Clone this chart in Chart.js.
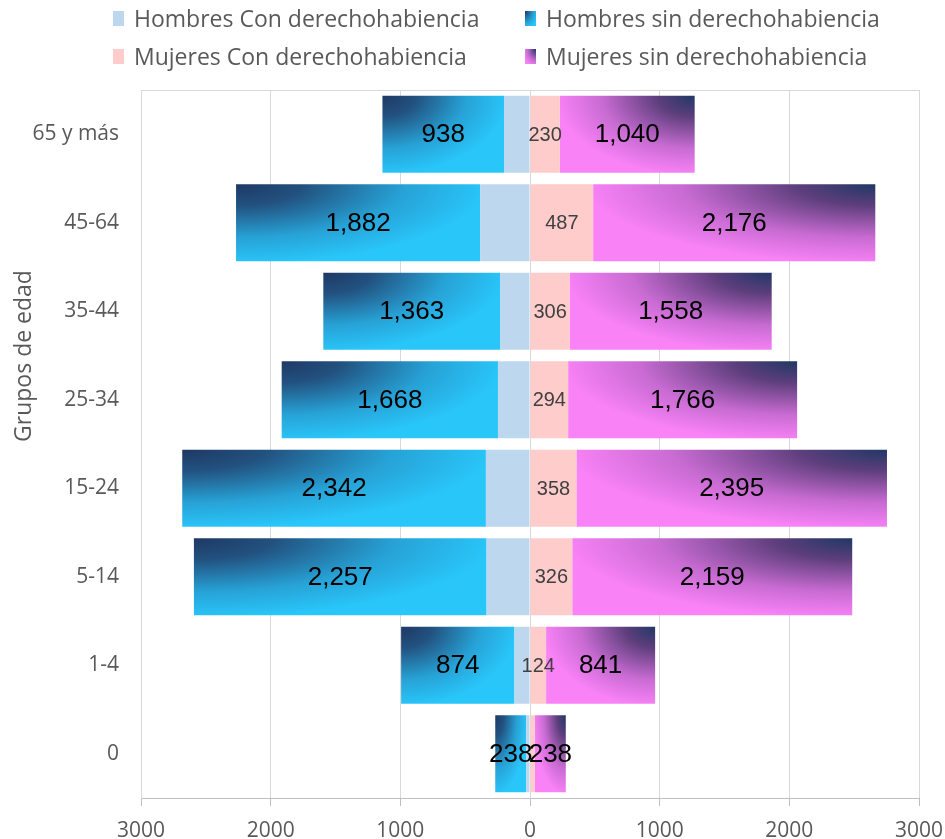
<!DOCTYPE html>
<html lang="es">
<head>
<meta charset="utf-8">
<title>Derechohabiencia por grupos de edad</title>
<script src="https://cdn.jsdelivr.net/npm/chart.js@4.4.1/dist/chart.umd.min.js"></script>
<style>
    html, body { margin: 0; padding: 0; background: #fff; }
    #marco { position: relative; width: 945px; height: 839px; }
    #leyenda {
        position: absolute; left: 113px; top: -1px;
        display: grid; grid-template-columns: 412px auto;
        font: 23px "Open Sans", sans-serif; color: #595959;
    }
    .item { display: flex; align-items: center; height: 38px; white-space: nowrap; }
    .cuadro { width: 11px; height: 15px; margin-right: 10px; }
</style>
</head>
<body>
<div id="marco">
    <canvas id="grafica" width="945" height="839"></canvas>
    <div id="leyenda"></div>
</div>
<script>
// grupos de edad, de arriba hacia abajo
var grupos = ['65 y más', '45-64', '35-44', '25-34', '15-24', '5-14', '1-4', '0'];

var hombresCon = [200, 385, 231, 247, 340, 335, 120, 30];
var hombresSin = [938, 1882, 1363, 1668, 2342, 2257, 874, 238];
var mujeresCon = [230, 487, 306, 294, 358, 326, 124, 38];
var mujeresSin = [1040, 2176, 1558, 1766, 2395, 2159, 841, 238];

var nombres = [
    'Hombres Con derechohabiencia',
    'Hombres sin derechohabiencia',
    'Mujeres Con derechohabiencia',
    'Mujeres sin derechohabiencia'
];
var tituloY = 'Grupos de edad';
var limiteEje = 3000;
var pasoEje = 1000;

var GRIS_TEXTO = '#595959';

/** degradados "desde la esquina" */
var DEG_AZUL = {
    esquina: 'izquierda',
    paradas: [[0, '#1f3864'], [0.22, '#22517f'], [0.55, '#27a2d6'], [0.82, '#29c6fa'], [1, '#29c6fa']],
    css: 'radial-gradient(ellipse farthest-corner at 0 0, #1f3864 0%, #27a2d6 55%, #29c6fa 85%)'
};
var DEG_ROSA = {
    esquina: 'derecha',
    paradas: [[0, '#1f3864'], [0.22, '#5c3e7b'], [0.55, '#c86bd2'], [0.82, '#f982f7'], [1, '#f982f7']],
    css: 'radial-gradient(ellipse farthest-corner at 100% 0, #1f3864 0%, #c86bd2 55%, #f982f7 85%)'
};

function patronEsquina(ctx, x, y, w, h, deg) {
    var lienzo = document.createElement('canvas');
    lienzo.width = Math.max(w, 1);
    lienzo.height = Math.max(h, 1);
    var c = lienzo.getContext('2d');
    c.save();
    c.translate(deg.esquina === 'derecha' ? lienzo.width : 0, 0);
    c.scale(lienzo.width, lienzo.height);
    var g = c.createRadialGradient(0, 0, 0, 0, 0, 1.25);
    deg.paradas.forEach(function(p) { g.addColorStop(p[0], p[1]); });
    c.fillStyle = g;
    c.fillRect(-1, 0, 2, 1);
    c.restore();
    var patron = ctx.createPattern(lienzo, 'no-repeat');
    patron.setTransform(new DOMMatrix([1, 0, 0, 1, x, y]));
    return patron;
}

var rellenoDegradado = {
    id: 'rellenoDegradado',
    beforeDatasetsDraw: function(chart) {
        var area = chart.chartArea, ctx = chart.ctx;
        // borde superior del área de trazado
        ctx.save();
        ctx.strokeStyle = '#d9d9d9';
        ctx.lineWidth = 1;
        ctx.beginPath();
        ctx.moveTo(area.left, area.top + 0.5);
        ctx.lineTo(area.right, area.top + 0.5);
        ctx.stroke();
        ctx.restore();

        chart.data.datasets.forEach(function(ds, i) {
            if (!ds.degradado) return;
            chart.getDatasetMeta(i).data.forEach(function(barra) {
                var izq = Math.floor(Math.min(barra.x, barra.base));
                var der = Math.ceil(Math.max(barra.x, barra.base));
                var arriba = Math.floor(barra.y - barra.height / 2);
                var abajo = Math.ceil(barra.y + barra.height / 2);
                barra.options = Object.assign({}, barra.options, {
                    backgroundColor: patronEsquina(ctx, izq, arriba, der - izq, abajo - arriba, ds.degradado)
                });
            });
        });
    }
};

var etiquetasValor = {
    id: 'etiquetasValor',
    afterDatasetsDraw: function(chart) {
        var ctx = chart.ctx;
        chart.data.datasets.forEach(function(ds, i) {
            if (!ds.etiqueta) return;
            ctx.save();
            ctx.font = ds.etiqueta.tamano + 'px "Liberation Sans", Arial, sans-serif';
            ctx.fillStyle = ds.etiqueta.color;
            ctx.textAlign = 'center';
            ctx.textBaseline = 'middle';
            chart.getDatasetMeta(i).data.forEach(function(barra, j) {
                var v = Math.abs(ds.data[j]);
                if (v < 50) return;
                ctx.fillText(v.toLocaleString('en-US'), (barra.x + barra.base) / 2, barra.y + 1);
            });
            ctx.restore();
        });
    }
};

var tituloEje = {
    id: 'tituloEje',
    afterDraw: function(chart) {
        var ctx = chart.ctx;
        ctx.save();
        ctx.translate(24, 356);
        ctx.rotate(-Math.PI / 2);
        ctx.font = '23px "Open Sans", sans-serif';
        ctx.fillStyle = GRIS_TEXTO;
        ctx.textAlign = 'center';
        ctx.textBaseline = 'middle';
        ctx.fillText(tituloY, 0, 0);
        ctx.restore();
    }
};

function negar(arr) { return arr.map(function(v) { return -v; }); }

var conjuntos = [
    { label: nombres[0], data: negar(hombresCon), backgroundColor: '#bdd7ee' },
    { label: nombres[1], data: negar(hombresSin), backgroundColor: '#29c6fa', degradado: DEG_AZUL,
      etiqueta: { tamano: 26, color: '#000000' } },
    { label: nombres[2], data: mujeresCon, backgroundColor: '#ffcccc',
      etiqueta: { tamano: 20, color: '#404040' } },
    { label: nombres[3], data: mujeresSin, backgroundColor: '#f982f7', degradado: DEG_ROSA,
      etiqueta: { tamano: 26, color: '#000000' } }
];

// leyenda en html, en rejilla de dos columnas como el original
var leyenda = document.getElementById('leyenda');
conjuntos.forEach(function(ds) {
    var item = document.createElement('div');
    item.className = 'item';
    var cuadro = document.createElement('span');
    cuadro.className = 'cuadro';
    cuadro.style.background = ds.degradado ? ds.degradado.css : ds.backgroundColor;
    item.appendChild(cuadro);
    item.appendChild(document.createTextNode(ds.label));
    leyenda.appendChild(item);
});

new Chart(document.getElementById('grafica').getContext('2d'), {
    type: 'bar',
    data: { labels: grupos, datasets: conjuntos },
    options: {
        indexAxis: 'y',
        responsive: false,
        animation: false,
        events: [],
        layout: { padding: { top: 90, right: 26, left: 0, bottom: 0 } },
        datasets: { bar: { barPercentage: 0.87, categoryPercentage: 1 } },
        plugins: {
            legend: { display: false },
            tooltip: { enabled: false }
        },
        scales: {
            x: {
                stacked: true,
                min: -limiteEje,
                max: limiteEje,
                ticks: {
                    stepSize: pasoEje,
                    maxRotation: 0,
                    color: GRIS_TEXTO,
                    font: { family: 'Open Sans', size: 21 },
                    padding: 12,
                    callback: function(v) { return Math.abs(v); }
                },
                grid: { color: '#d9d9d9', tickColor: '#bfbfbf', tickLength: 8 },
                border: { color: '#bfbfbf' },
                afterFit: function(escala) {
                    escala.height = 41;
                    escala.paddingLeft = 0;
                    escala.paddingRight = 0;
                }
            },
            y: {
                stacked: true,
                ticks: { color: GRIS_TEXTO, font: { family: 'Open Sans', size: 21 }, padding: 22 },
                grid: { display: false, drawTicks: false },
                border: { display: true, color: '#d9d9d9' },
                afterFit: function(escala) { escala.width = 141; }
            }
        }
    },
    plugins: [rellenoDegradado, etiquetasValor, tituloEje]
});
</script>
</body>
</html>
